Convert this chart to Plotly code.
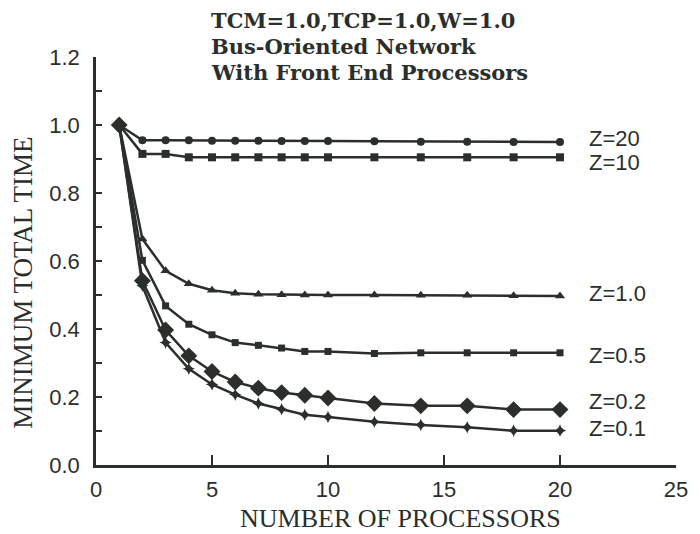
import plotly.graph_objects as go

processors = [1, 2, 3, 4, 5, 6, 7, 8, 9, 10, 12, 14, 16, 18, 20]

z20 = [1.0, 0.955, 0.955, 0.955, 0.954, 0.954, 0.954, 0.953, 0.953, 0.953, 0.952, 0.951, 0.951, 0.950, 0.950]
z10 = [1.0, 0.915, 0.915, 0.905, 0.905, 0.905, 0.905, 0.905, 0.905, 0.905, 0.905, 0.905, 0.905, 0.905, 0.905]
z1_0 = [1.0, 0.665, 0.571, 0.533, 0.514, 0.505, 0.502, 0.501, 0.500, 0.500, 0.500, 0.499, 0.499, 0.498, 0.497]
z0_5 = [1.0, 0.602, 0.468, 0.414, 0.383, 0.360, 0.352, 0.344, 0.334, 0.334, 0.328, 0.330, 0.330, 0.330, 0.330]
z0_2 = [1.0, 0.542, 0.397, 0.321, 0.275, 0.244, 0.226, 0.213, 0.205, 0.197, 0.181, 0.174, 0.174, 0.163, 0.163]
z0_1 = [1.0, 0.527, 0.360, 0.283, 0.237, 0.207, 0.181, 0.164, 0.148, 0.141, 0.127, 0.118, 0.111, 0.101, 0.101]

series_names = ["Z=20", "Z=10", "Z=1.0", "Z=0.5", "Z=0.2", "Z=0.1"]
series_values = [z20, z10, z1_0, z0_5, z0_2, z0_1]
label_offsets = [0.010, -0.016, 0.006, -0.008, 0.025, 0.006]

title_lines = ["TCM=1.0,TCP=1.0,W=1.0", "Bus-Oriented Network", "With Front End Processors"]
x_ticks = [0, 5, 10, 15, 20, 25]
y_ticks = [0.0, 0.2, 0.4, 0.6, 0.8, 1.0, 1.2]

ink = "#2b2f2b"
symbols = ["circle", "square", "triangle-up", "square", "diamond", "star-diamond"]
sizes = [8, 8, 9, 7, 13, 9]

W, H_ = 700, 534
L, R, T, B = 96, 18, 57, 69
PW = W - L - R
PH = H_ - T - B


def px(xp):
    return (xp - L) / PW


def py(yp):
    return 1 - (yp - T) / PH


fig = go.Figure()
for name, vals, sym, sz in zip(series_names, series_values, symbols, sizes):
    fig.add_trace(go.Scatter(
        x=processors, y=vals, name=name, mode="lines+markers",
        line=dict(color=ink, width=2.5),
        marker=dict(symbol=sym, size=sz, color=ink, line=dict(width=0)),
        showlegend=False,
    ))

annotations = []
for name, vals, off in zip(series_names, series_values, label_offsets):
    annotations.append(dict(
        x=21.15, y=vals[-1] + off, xref="x", yref="y", text=name,
        showarrow=False, xanchor="left", yanchor="middle",
        font=dict(family="Liberation Sans", size=22, color=ink),
    ))

for i, line in enumerate(title_lines):
    yc = 20 + 26 * i
    annotations.append(dict(
        x=px(210), y=py(yc), xref="paper", yref="paper",
        text="<b>" + line + "</b>", showarrow=False, xanchor="left", yanchor="middle",
        font=dict(family="DejaVu Serif", size=21, color=ink),
    ))

annotations.append(dict(
    x=px(404), y=py(518), xref="paper", yref="paper",
    text="NUMBER OF PROCESSORS", showarrow=False, xanchor="center", yanchor="middle",
    font=dict(family="Liberation Serif", size=26, color=ink),
))
annotations.append(dict(
    x=px(22), y=py(283), xref="paper", yref="paper",
    text="MINIMUM TOTAL TIME", showarrow=False, xanchor="center", yanchor="middle",
    textangle=-90,
    font=dict(family="Liberation Serif", size=27, color=ink),
))

fig.update_layout(
    width=W, height=H_,
    margin=dict(l=L, r=R, t=T, b=B),
    paper_bgcolor="white", plot_bgcolor="white",
    annotations=annotations,
    xaxis=dict(
        range=[0, 25], tickvals=x_ticks, ticktext=[str(v) for v in x_ticks],
        ticks="inside", ticklen=10, tickwidth=2, tickcolor=ink,
        showline=True, linewidth=2.5, linecolor=ink, showgrid=False, zeroline=False,
        tickfont=dict(family="Liberation Sans", size=22, color=ink),
        ticklabelstandoff=3,
    ),
    yaxis=dict(
        range=[0, 1.2], tickvals=y_ticks, ticktext=[f"{v:.1f}" for v in y_ticks],
        ticks="inside", ticklen=6, tickwidth=2, tickcolor=ink,
        minor=dict(dtick=0.1, ticks="inside", ticklen=6, tickwidth=2, tickcolor=ink, showgrid=False),
        showline=True, linewidth=2.5, linecolor=ink, showgrid=False, zeroline=False,
        tickfont=dict(family="Liberation Sans", size=22, color=ink),
        ticklabelstandoff=9,
    ),
)

fig.write_html("out.html")
